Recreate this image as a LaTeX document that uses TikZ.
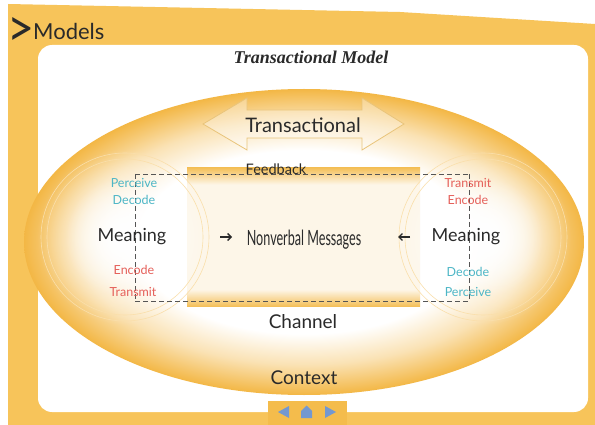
\documentclass[tikz,border=0pt]{standalone}
\usepackage{fontspec}
\setmainfont{Lato}
\newfontfamily\titlefont{Liberation Serif}
\usetikzlibrary{fadings,arrows.meta}
\definecolor{frameor}{HTML}{F7C45A}
\definecolor{ellor}{HTML}{F3B745}
\definecolor{rector}{HTML}{F4C05A}
\definecolor{cyantx}{HTML}{4DB6C6}
\definecolor{redtx}{HTML}{E5605A}
\definecolor{darktx}{HTML}{2A2A2A}
\definecolor{navblue}{HTML}{5B86C8}
\definecolor{navor}{HTML}{F4BC4C}
\definecolor{arrowor}{HTML}{E9C47A}
\definecolor{dashc}{HTML}{555555}
\pgfdeclareradialshading{ellshade}{\pgfpoint{0bp}{0bp}}{color(0bp)=(white); color(15bp)=(white); color(20bp)=(ellor!40); color(25bp)=(ellor); color(50bp)=(ellor)}
\pgfdeclareverticalshading{rectshade}{100bp}{color(0bp)=(rector); color(25bp)=(rector); color(31bp)=(rector!14); color(69bp)=(rector!14); color(75bp)=(rector); color(100bp)=(rector)}
\tikzfading[name=softdisk, inner color=transparent!0, outer color=transparent!100]
\begin{document}
\begin{tikzpicture}[x=1pt,y=-1pt,
  hand/.style={font=\fontsize{#1}{#1}\selectfont, text=darktx, inner sep=0pt},
  small/.style={font=\fontsize{12.5}{12.5}\selectfont, inner sep=0pt},
  dline/.style={draw=dashc, line width=0.8pt, dash pattern=on 5pt off 3pt},
  ring/.style={draw=ellor!45, line width=0.6pt},
  flow/.style={draw=darktx, line width=1.3pt, -{Straight Barb[length=3.5pt,width=7pt]}}]
\useasboundingbox (0,0) rectangle (595,425);
\fill[white] (0,0) rectangle (595,425);
% frame
\fill[frameor] (8,4) -- (400,12) -- (595,24) -- (595,425) -- (8,425) -- cycle;
\fill[white, rounded corners=14pt] (38,45) rectangle (588,412);
% ellipse
\shade[shading=ellshade] (304,242) ellipse [x radius=280, y radius=153];
% central band
\shade[shading=rectshade] (187,168) rectangle (420,306);
% circles
\fill[white, path fading=softdisk] (125,237) circle [radius=88];
\fill[white, path fading=softdisk] (483,237) circle [radius=88];
\fill[white, path fading=softdisk] (125,237) circle [radius=60];
\fill[white, path fading=softdisk] (483,237) circle [radius=60];
\draw[ring] (125,237) circle [radius=84];
\draw[ring] (125,237) circle [radius=78];
\draw[ring] (483,237) circle [radius=84];
\draw[ring] (483,237) circle [radius=78];
% dashed loop
\coordinate (tl) at (135,174);
\coordinate (tr) at (469,174);
\coordinate (bl) at (135,301);
\coordinate (br) at (469,301);
\draw[dline] (tl) -- (tr);
\draw[dline] (bl) -- (br);
\draw[dline] (tl) -- (bl);
\draw[dline] (tr) -- (br);
% transactional double arrow
\draw[arrowor, line width=0.8pt, fill=white, fill opacity=0.35]
  (203,124) -- (247,98) -- (247,110) -- (362,110) -- (362,98) -- (404,124)
  -- (362,150) -- (362,138) -- (247,138) -- (247,150) -- cycle;
% texts
\node[hand=36] (gt) at (21,32) {\scalebox{1.3}[1.45]{\textgreater}};
\node[hand=22, anchor=base west] (models) at (33,40) {Models};
\node[font=\titlefont\fontsize{18}{18}\selectfont\bfseries\itshape, text=darktx, inner sep=0pt] (title) at (311,57) {Transactional Model};
\node[hand=20] (trans) at (303,125) {Transactional};
\node[hand=14.5] (fb) at (276,169) {Feedback};
\node[small, text=cyantx] (pL) at (134,183) {Perceive};
\node[small, text=cyantx] (dL) at (134,200) {Decode};
\node[hand=18] (mL) at (132,237) {Meaning};
\node[small, text=redtx] (eL) at (134,270) {Encode};
\node[small, text=redtx] (tL) at (133,292) {Transmit};
\node[small, text=redtx] (tR) at (468,183) {Transmit};
\node[small, text=redtx] (eR) at (468,200) {Encode};
\node[hand=18] (mR) at (466,237) {Meaning};
\node[small, text=cyantx] (dR) at (468,272) {Decode};
\node[small, text=cyantx] (pR) at (468,292) {Perceive};
\node[hand=21] (nv) at (304,240) {\scalebox{0.6}[1]{Nonverbal Messages}};
\coordinate (aLs) at (220,237);
\coordinate (aLe) at (232,237);
\coordinate (aRs) at (410,237);
\coordinate (aRe) at (398,237);
\draw[flow] (aLs) -- (aLe);
\draw[flow] (aRs) -- (aRe);
\node[hand=19] (chan) at (303,322) {Channel};
\node[hand=19] (ctx) at (304,378) {Context};
% navigation tab
\fill[navor] (268,401) rectangle (347,425);
\fill[navblue!85] (278,412) -- (289,406) -- (289,418) -- cycle;
\fill[navblue!85] (301,411) -- (306.5,405.5) -- (312,411) -- (312,418) -- (301,418) -- cycle;
\fill[navblue!85] (336,412) -- (325,406) -- (325,418) -- cycle;
\end{tikzpicture}
\end{document}
